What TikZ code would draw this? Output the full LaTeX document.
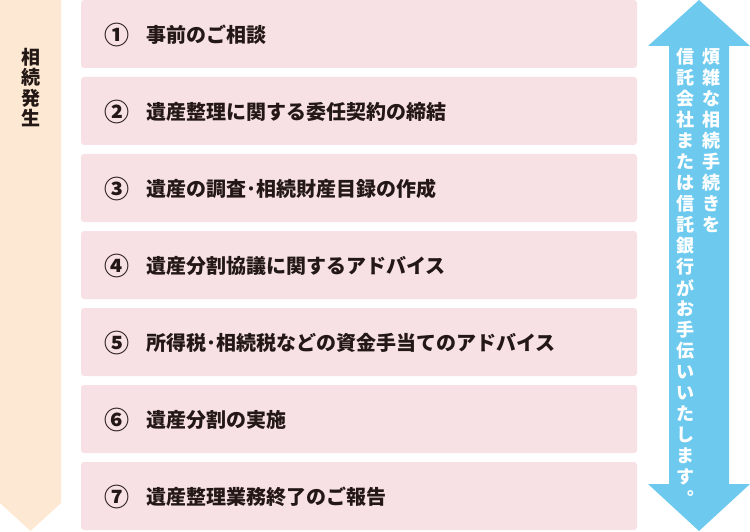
\documentclass[tikz,border=0pt]{standalone}
\usepackage{fontspec}
\setmainfont{Noto Sans CJK JP}
\usepackage{tikz}
\usetikzlibrary{positioning}

\definecolor{stepfill}{HTML}{F7E1E5}
\definecolor{startfill}{HTML}{FDE8D3}
\definecolor{helpfill}{HTML}{6DCAEE}
\definecolor{inkdark}{HTML}{231815}

\tikzset{
    stepbox/.style={fill=stepfill, rounded corners=3pt, minimum width=556pt, minimum height=68pt, inner sep=0pt},
    stepnum/.style={font=\fontsize{25}{25}\selectfont\bfseries, text=inkdark, inner sep=0pt},
    steptext/.style={font=\fontsize{20}{20}\selectfont\bfseries, text=inkdark, inner sep=0pt, anchor=west},
    startchar/.style={font=\fontsize{19}{19}\selectfont\bfseries, text=inkdark, inner sep=0pt},
    helpchar/.style={font=\fontsize{18}{18}\selectfont\bfseries, text=white, inner sep=0pt}
}

\begin{document}
\begin{tikzpicture}[x=1pt, y=-1pt]
    \useasboundingbox (0,0) rectangle (750,532);

    % Draw the arrow on the left
    \fill[startfill] (0,0) -- (61,0) -- (61,503) -- (30.5,531) -- (0,503) -- cycle;
    \foreach \c [count=\i] in {相,続,発,生}
        \node[startchar] (A\i) at (30.5, {57+20.5*(\i-1)}) {\c};

    % Draw the steps
    \foreach \num/\txt [count=\i] in {①/事前のご相談, ②/遺産整理に関する委任契約の締結, ③/遺産の調査･相続財産目録の作成, ④/遺産分割協議に関するアドバイス, ⑤/所得税･相続税などの資金手当てのアドバイス, ⑥/遺産分割の実施, ⑦/遺産整理業務終了のご報告}
    {
        \node[stepbox] (S\i) at (359, {34+77*(\i-1)}) {};
        \node[stepnum] (N\i) at ([xshift=36pt, yshift=-1pt]S\i.west) {\num};
        \node[steptext] (L\i) at ([xshift=65pt, yshift=-1pt]S\i.west) {\txt};
    }

    % Draw the double arrow on the right
    \fill[helpfill] (699,0) -- (750,46) -- (729,46) -- (729,484) -- (750,484) -- (699,531)
        -- (648,484) -- (669,484) -- (669,46) -- (648,46) -- cycle;
    \foreach \c [count=\i] in {煩,雑,な,相,続,手,続,き,を}
        \node[helpchar] (R\i) at (711, {57+21*(\i-1)}) {\c};
    \foreach \c [count=\i] in {信,託,会,社,ま,た,は,信,託,銀,行,が,お,手,伝,い,い,た,し,ま,す,︒}
        \node[helpchar] (H\i) at (685, {57+21*(\i-1)}) {\c};

\end{tikzpicture}
\end{document}
